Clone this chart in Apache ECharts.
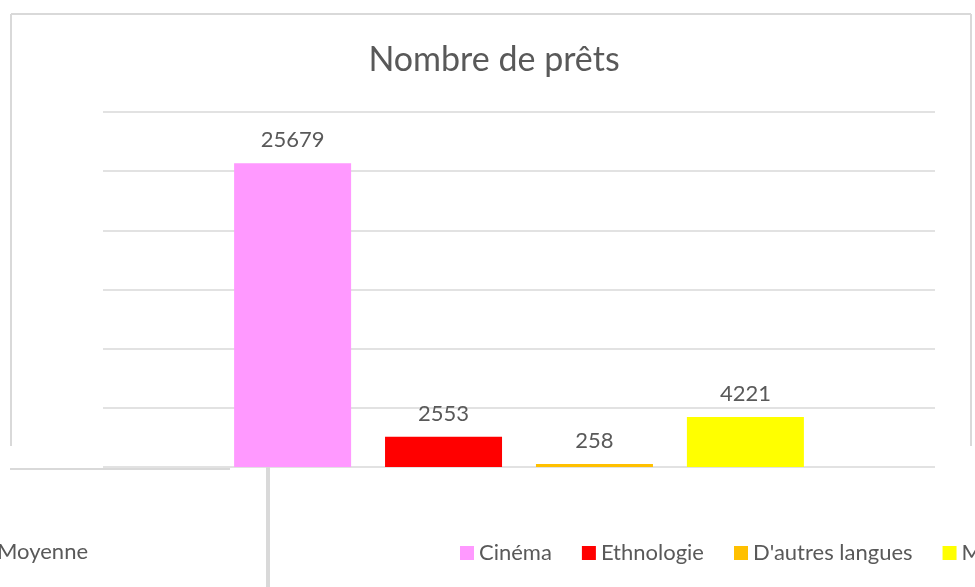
<!DOCTYPE html>
<html>
<head>
<meta charset="utf-8">
<script src="https://cdn.jsdelivr.net/npm/echarts@6/dist/echarts.min.js"></script>
<style>
  html, body { margin: 0; padding: 0; background: #fff; }
  #chart { width: 975px; height: 587px; }
</style>
</head>
<body>
<div id="chart"></div>
<script>
// données
var categories = ["Moyenne"];
var seriesNames = ["Cinéma", "Ethnologie", "D'autres langues", "Musique"];
var seriesColors = ["#ff99ff", "#ff0000", "#ffc000", "#ffff00"];
var cinema = [25679];
var ethnologie = [2553];
var autresLangues = [258];
var musique = [4221];
var yTicks = [0, 5000, 10000, 15000, 20000, 25000, 30000];

var seriesValues = [cinema, ethnologie, autresLangues, musique];

/*
 * construire une série de barres
 */
function makeBar(i) {
  return {
    name: seriesNames[i],
    type: "bar",
    data: seriesValues[i],
    barWidth: 117,
    barGap: "29%",
    itemStyle: { color: seriesColors[i] },
    label: {
      show: true,
      position: "top",
      distance: 12,
      color: "#595959",
      fontSize: 22,
      fontFamily: "Lato"
    }
  };
}

var series = [];
for (var i = 0; i < seriesNames.length; i++) {
  series.push(makeBar(i));
}

var options = {
  animation: false,
  backgroundColor: "#ffffff",
  title: {
    text: "Nombre de prêts",
    left: 489,
    top: 38,
    textAlign: "center",
    textStyle: { color: "#595959", fontSize: 34, fontWeight: "normal", fontFamily: "Lato" }
  },
  legend: {
    left: 455,
    top: 537,
    width: 1200,
    itemWidth: 14,
    itemHeight: 14,
    itemGap: 30,
    icon: "rect",
    textStyle: { color: "#595959", fontSize: 22, fontFamily: "Lato" },
    data: seriesNames
  },
  grid: { left: 103, right: 40, top: 112, bottom: 120 },
  xAxis: {
    type: "category",
    data: categories,
    axisLine: { show: false },
    axisTick: { show: false },
    axisLabel: { show: false }
  },
  yAxis: {
    type: "value",
    min: yTicks[0],
    max: yTicks[yTicks.length - 1],
    interval: yTicks[1] - yTicks[0],
    axisLabel: { show: false },
    axisLine: { show: false },
    axisTick: { show: false },
    splitLine: { lineStyle: { color: "#d9d9d9", width: 1.5 } }
  },
  graphic: [
    // cadre du graphique
    { type: "line", shape: { x1: 11, y1: 14, x2: 971, y2: 14 }, style: { stroke: "#d9d9d9", lineWidth: 2 } },
    { type: "line", shape: { x1: 11, y1: 14, x2: 11, y2: 446 }, style: { stroke: "#d9d9d9", lineWidth: 2 } },
    { type: "line", shape: { x1: 971, y1: 14, x2: 971, y2: 446 }, style: { stroke: "#d9d9d9", lineWidth: 2 } },
    { type: "line", shape: { x1: 268, y1: 467, x2: 268, y2: 587 }, style: { stroke: "#d9d9d9", lineWidth: 4 } },
    { type: "line", shape: { x1: 10, y1: 469, x2: 230, y2: 469 }, style: { stroke: "#d9d9d9", lineWidth: 2 } },
    {
      type: "text", left: -3, top: 541,
      style: { text: categories[0], fill: "#595959", font: "22px Lato" }
    }
  ],
  series: series
};

var myEchart = echarts.init(document.getElementById("chart"));
myEchart.setOption(options);
</script>
</body>
</html>
